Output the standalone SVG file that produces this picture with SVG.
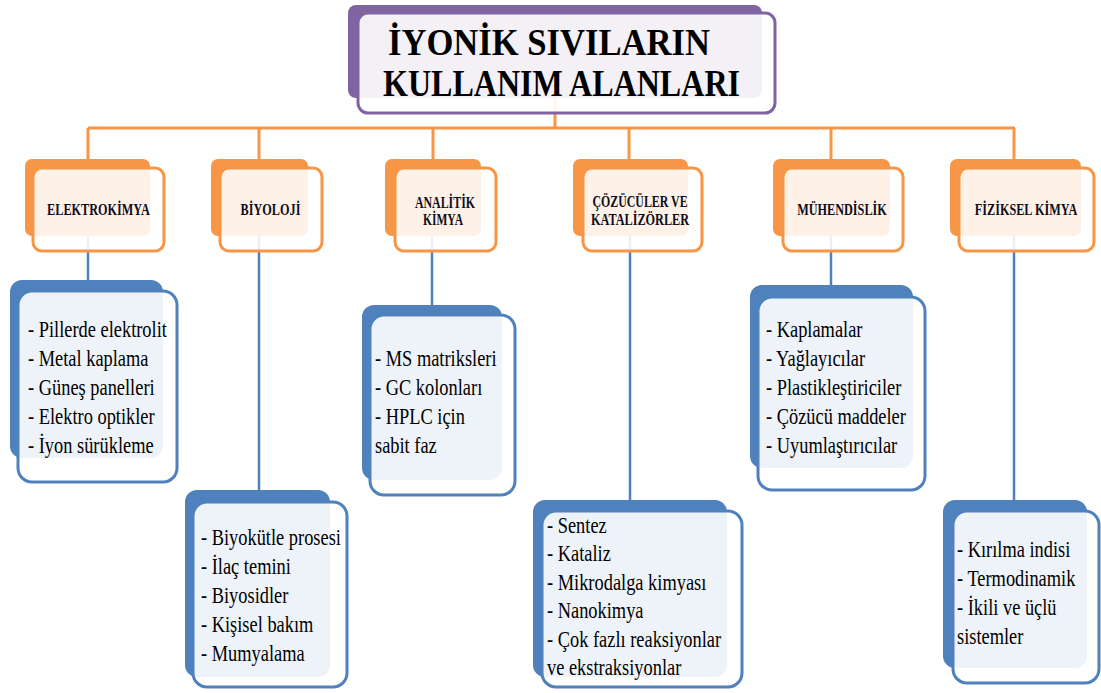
<svg xmlns="http://www.w3.org/2000/svg" width="1101" height="693" viewBox="0 0 1101 693">
<style>
.bg{fill:#ffffff}
.pback{fill:#8064a2}
.pfront{fill:#ffffff;fill-opacity:0.9;stroke:#8064a2;stroke-width:3}
.oback{fill:#f79646}
.ofront{fill:#ffffff;fill-opacity:0.88;stroke:#f79646;stroke-width:3}
.bback{fill:#4f81bd}
.bfront{fill:#ffffff;fill-opacity:0.9;stroke:#4f81bd;stroke-width:3}
.oline{stroke:#f79646;stroke-width:3;fill:none}
.bline{stroke:#4f81bd;stroke-width:2.5;fill:none}
.title{font-family:"Liberation Serif","Times New Roman",serif;font-weight:bold;font-size:38px;fill:#000}
.cat{font-family:"Liberation Serif","Times New Roman",serif;font-weight:bold;font-size:17px;fill:#0d0d1a;text-anchor:middle}
.item{font-family:"Liberation Serif","Times New Roman",serif;font-size:23px;fill:#000}
</style>
<rect class="bg" x="0" y="0" width="1101" height="693"/>
<g id="connectors">
  <line class="oline" x1="555" y1="97" x2="555" y2="128"/>
  <line class="oline" x1="88" y1="128" x2="1015" y2="128"/>
  <line class="oline" x1="88" y1="128" x2="88" y2="160"/>
  <line class="oline" x1="259" y1="128" x2="259" y2="160"/>
  <line class="oline" x1="433" y1="128" x2="433" y2="160"/>
  <line class="oline" x1="629" y1="128" x2="629" y2="160"/>
  <line class="oline" x1="831" y1="128" x2="831" y2="160"/>
  <line class="oline" x1="1014" y1="128" x2="1014" y2="160"/>
  <line class="bline" x1="88" y1="236" x2="88" y2="281"/>
  <line class="bline" x1="259" y1="236" x2="259" y2="491"/>
  <line class="bline" x1="432" y1="236" x2="432" y2="306"/>
  <line class="bline" x1="630" y1="236" x2="630" y2="501"/>
  <line class="bline" x1="831" y1="236" x2="831" y2="286"/>
  <line class="bline" x1="1014" y1="236" x2="1014" y2="501"/>
</g>
<g id="title">
  <rect class="pback" x="348" y="5" width="414" height="93" rx="8"/>
  <rect class="pfront" x="358" y="13" width="417" height="100" rx="10"/>
  <text class="title" x="388" y="55" textLength="322" lengthAdjust="spacingAndGlyphs">İYONİK SIVILARIN</text>
  <text class="title" x="383" y="96" textLength="357" lengthAdjust="spacingAndGlyphs">KULLANIM ALANLARI</text>
</g>
<g id="cat-elektrokimya">
  <rect class="oback" x="25" y="159" width="125" height="77" rx="7"/>
  <rect class="ofront" x="33" y="168" width="131" height="83" rx="9"/>
  <text class="cat" transform="translate(98.5 215) scale(0.72 1)">ELEKTROKİMYA</text>
</g>
<g id="cat-biyoloji">
  <rect class="oback" x="211" y="159" width="97" height="77" rx="7"/>
  <rect class="ofront" x="220" y="168" width="102" height="83" rx="9"/>
  <text class="cat" transform="translate(270.5 215) scale(0.72 1)">BİYOLOJİ</text>
</g>
<g id="cat-analitik">
  <rect class="oback" x="385" y="159" width="96" height="77" rx="7"/>
  <rect class="ofront" x="395" y="168" width="101" height="83" rx="9"/>
  <text class="cat" transform="translate(445 208) scale(0.7 1)">ANALİTİK</text>
  <text class="cat" transform="translate(443 225) scale(0.68 1)">KİMYA</text>
</g>
<g id="cat-cozuculer">
  <rect class="oback" x="573" y="159" width="115" height="77" rx="7"/>
  <rect class="ofront" x="583" y="168" width="119" height="83" rx="9"/>
  <text class="cat" transform="translate(640 207) scale(0.7 1)">ÇÖZÜCÜLER  VE</text>
  <text class="cat" transform="translate(640 225) scale(0.72 1)">KATALİZÖRLER</text>
</g>
<g id="cat-muhendislik">
  <rect class="oback" x="773" y="159" width="117" height="77" rx="7"/>
  <rect class="ofront" x="783" y="168" width="120" height="83" rx="9"/>
  <text class="cat" transform="translate(842 215) scale(0.72 1)">MÜHENDİSLİK</text>
</g>
<g id="cat-fiziksel">
  <rect class="oback" x="950" y="159" width="131" height="77" rx="7"/>
  <rect class="ofront" x="959" y="168" width="135" height="83" rx="9"/>
  <text class="cat" transform="translate(1026 215) scale(0.72 1)">FİZİKSEL  KİMYA</text>
</g>
<g id="list-elektrokimya">
  <rect class="bback" x="10" y="280" width="153" height="178" rx="12"/>
  <rect class="bfront" x="18" y="291" width="159" height="191" rx="14"/>
  <text class="item" transform="translate(28 337) scale(0.8 1)"><tspan x="0" y="0">- Pillerde  elektrolit</tspan><tspan x="0" dy="29">- Metal  kaplama</tspan><tspan x="0" dy="29">- Güneş panelleri</tspan><tspan x="0" dy="29">- Elektro  optikler</tspan><tspan x="0" dy="29">- İyon sürükleme</tspan></text>
</g>
<g id="list-biyoloji">
  <rect class="bback" x="185" y="490" width="145" height="187" rx="12"/>
  <rect class="bfront" x="193" y="502" width="154" height="185" rx="14"/>
  <text class="item" transform="translate(201 545) scale(0.8 1)"><tspan x="0" y="0">- Biyokütle  prosesi</tspan><tspan x="0" dy="29">- İlaç  temini</tspan><tspan x="0" dy="29">- Biyosidler</tspan><tspan x="0" dy="29">- Kişisel  bakım</tspan><tspan x="0" dy="29">- Mumyalama</tspan></text>
</g>
<g id="list-analitik">
  <rect class="bback" x="362" y="305" width="140" height="175" rx="12"/>
  <rect class="bfront" x="370" y="315" width="145" height="180" rx="14"/>
  <text class="item" transform="translate(375 366) scale(0.8 1)"><tspan x="0" y="0">- MS matriksleri</tspan><tspan x="0" dy="29">- GC kolonları</tspan><tspan x="0" dy="29">- HPLC için</tspan><tspan x="0" dy="29">sabit faz</tspan></text>
</g>
<g id="list-cozuculer">
  <rect class="bback" x="533" y="500" width="194" height="177" rx="12"/>
  <rect class="bfront" x="542" y="511" width="200" height="176" rx="14"/>
  <text class="item" transform="translate(547 533) scale(0.8 1)"><tspan x="0" y="0">- Sentez</tspan><tspan x="0" dy="28.5">- Kataliz</tspan><tspan x="0" dy="28.5">- Mikrodalga  kimyası</tspan><tspan x="0" dy="28.5">- Nanokimya</tspan><tspan x="0" dy="28.5">- Çok fazlı reaksiyonlar</tspan><tspan x="0" dy="28.5">ve ekstraksiyonlar</tspan></text>
</g>
<g id="list-muhendislik">
  <rect class="bback" x="750" y="285" width="163" height="183" rx="12"/>
  <rect class="bfront" x="758" y="297" width="167" height="193" rx="14"/>
  <text class="item" transform="translate(766 337) scale(0.8 1)"><tspan x="0" y="0">- Kaplamalar</tspan><tspan x="0" dy="29">- Yağlayıcılar</tspan><tspan x="0" dy="29">- Plastikleştiriciler</tspan><tspan x="0" dy="29">- Çözücü maddeler</tspan><tspan x="0" dy="29">- Uyumlaştırıcılar</tspan></text>
</g>
<g id="list-fiziksel">
  <rect class="bback" x="943" y="500" width="144" height="168" rx="12"/>
  <rect class="bfront" x="953" y="511" width="146" height="172" rx="14"/>
  <text class="item" transform="translate(957 557) scale(0.8 1)"><tspan x="0" y="0">- Kırılma  indisi</tspan><tspan x="0" dy="29">- Termodinamik</tspan><tspan x="0" dy="29">- İkili  ve üçlü</tspan><tspan x="0" dy="29">sistemler</tspan></text>
</g>
</svg>
